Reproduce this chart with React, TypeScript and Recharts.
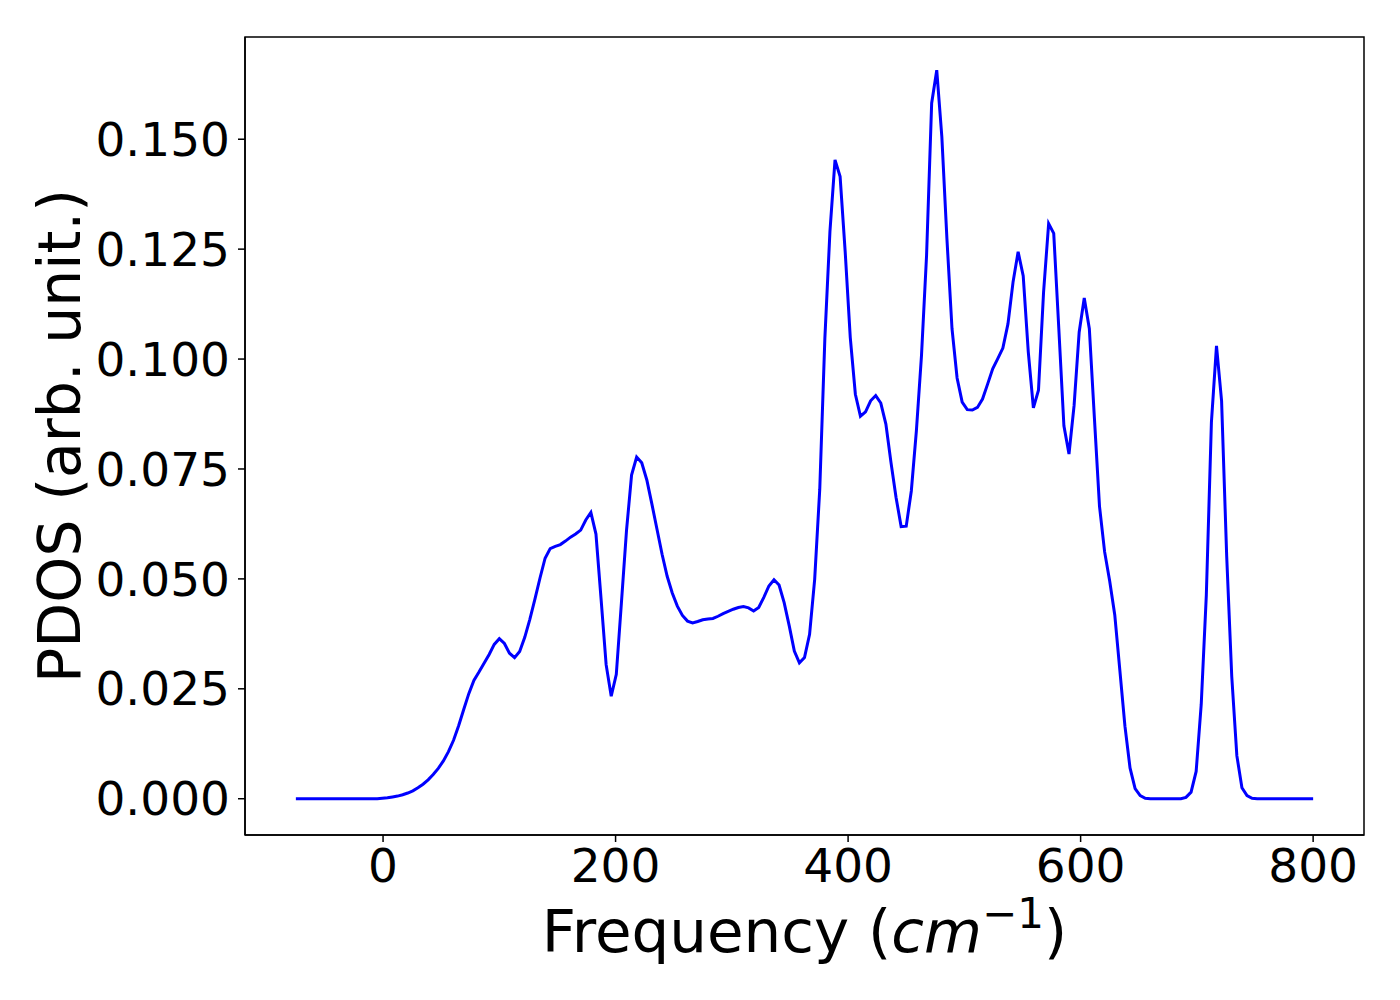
import React from "react";
import { LineChart, Line, XAxis, YAxis, ReferenceArea } from "recharts";

// Frequency grid (cm^-1)
const FREQ: number[] = [
  -75, -70.625, -66.25, -61.875, -57.5, -53.125, -48.75, -44.375,
  -40, -35.625, -31.25, -26.875, -22.5, -18.125, -13.75, -9.375,
  -5, -0.625, 3.75, 8.125, 12.5, 16.875, 21.25, 25.625,
  30, 34.375, 38.75, 43.125, 47.5, 51.875, 56.25, 60.625,
  65, 69.375, 73.75, 78.125, 82.5, 86.875, 91.25, 95.625,
  100, 104.375, 108.75, 113.125, 117.5, 121.875, 126.25, 130.625,
  135, 139.375, 143.75, 148.125, 152.5, 156.875, 161.25, 165.625,
  170, 174.375, 178.75, 183.125, 187.5, 191.875, 196.25, 200.625,
  205, 209.375, 213.75, 218.125, 222.5, 226.875, 231.25, 235.625,
  240, 244.375, 248.75, 253.125, 257.5, 261.875, 266.25, 270.625,
  275, 279.375, 283.75, 288.125, 292.5, 296.875, 301.25, 305.625,
  310, 314.375, 318.75, 323.125, 327.5, 331.875, 336.25, 340.625,
  345, 349.375, 353.75, 358.125, 362.5, 366.875, 371.25, 375.625,
  380, 384.375, 388.75, 393.125, 397.5, 401.875, 406.25, 410.625,
  415, 419.375, 423.75, 428.125, 432.5, 436.875, 441.25, 445.625,
  450, 454.375, 458.75, 463.125, 467.5, 471.875, 476.25, 480.625,
  485, 489.375, 493.75, 498.125, 502.5, 506.875, 511.25, 515.625,
  520, 524.375, 528.75, 533.125, 537.5, 541.875, 546.25, 550.625,
  555, 559.375, 563.75, 568.125, 572.5, 576.875, 581.25, 585.625,
  590, 594.375, 598.75, 603.125, 607.5, 611.875, 616.25, 620.625,
  625, 629.375, 633.75, 638.125, 642.5, 646.875, 651.25, 655.625,
  660, 664.375, 668.75, 673.125, 677.5, 681.875, 686.25, 690.625,
  695, 699.375, 703.75, 708.125, 712.5, 716.875, 721.25, 725.625,
  730, 734.375, 738.75, 743.125, 747.5, 751.875, 756.25, 760.625,
  765, 769.375, 773.75, 778.125, 782.5, 786.875, 791.25, 795.625,
  800,
];

// PDOS values (arb. unit.)
const PDOS: number[] = [
  0, 0, 0, 0, 0, 0, 0, 0,
  0, 0, 0, 0, 0, 0, 0, 0,
  0, 0.0001, 0.0002, 0.0004, 0.0006, 0.0009, 0.0013, 0.0018,
  0.0025, 0.0033, 0.0043, 0.0055, 0.0069, 0.0086, 0.0107, 0.0133,
  0.0166, 0.0203, 0.0239, 0.0269, 0.0288, 0.0308, 0.0328, 0.0351,
  0.0364, 0.0353, 0.0331, 0.0321, 0.0335, 0.0367, 0.0408, 0.0454,
  0.0502, 0.0547, 0.0569, 0.0574, 0.0578, 0.0586, 0.0595, 0.0602,
  0.0611, 0.0634, 0.0651, 0.0602, 0.0455, 0.0305, 0.0233, 0.0283,
  0.0445, 0.0609, 0.0736, 0.0777, 0.0764, 0.0725, 0.067, 0.0613,
  0.0556, 0.0506, 0.0468, 0.0438, 0.0417, 0.0404, 0.04, 0.0403,
  0.0407, 0.0409, 0.041, 0.0415, 0.0421, 0.0426, 0.0431, 0.0435,
  0.0437, 0.0434, 0.0427, 0.0435, 0.0458, 0.0484, 0.0498, 0.0486,
  0.0446, 0.0393, 0.0336, 0.0309, 0.0321, 0.0374, 0.0499, 0.0704,
  0.1046, 0.129, 0.1453, 0.1415, 0.1244, 0.1049, 0.092, 0.087,
  0.088, 0.0905, 0.0917, 0.09, 0.0852, 0.0765, 0.0685, 0.0619,
  0.062, 0.07, 0.0837, 0.1008, 0.1236, 0.1582, 0.1657, 0.1506,
  0.1274, 0.1069, 0.0957, 0.0902, 0.0885, 0.0884, 0.089, 0.0909,
  0.0943, 0.0978, 0.1001, 0.1025, 0.108, 0.1175, 0.1244, 0.1189,
  0.1016, 0.0889, 0.0929, 0.1152, 0.1308, 0.1286, 0.1069, 0.0848,
  0.0784, 0.0894, 0.1061, 0.1139, 0.1069, 0.0865, 0.0665, 0.0562,
  0.0495, 0.0418, 0.0292, 0.0165, 0.007, 0.0023, 0.0007, 0.0001,
  0, 0, 0, 0, 0, 0, 0, 0.0003,
  0.0015, 0.0062, 0.0215, 0.0463, 0.0856, 0.103, 0.0905, 0.0553,
  0.0278, 0.0098, 0.0025, 0.0007, 0.0001, 0, 0, 0,
  0, 0, 0, 0, 0, 0, 0, 0,
  0,
];

const X_TICKS = [0, 200, 400, 600, 800];
const Y_TICKS = [0, 0.025, 0.05, 0.075, 0.1, 0.125, 0.15];
const X_DOMAIN: [number, number] = [-118.75, 843.75];
const Y_DOMAIN: [number, number] = [-0.00825, 0.17325];

const data = FREQ.map((f, i) => ({ x: f, y: PDOS[i] }));

const FONT = "'DejaVu Sans', sans-serif";

const XLabel = (props: any) => {
  const vb = props.viewBox || { x: 245, y: 835, width: 1119, height: 165 };
  const cx = vb.x + vb.width / 2;
  return (
    <text
      x={cx}
      y={952}
      textAnchor="middle"
      fontFamily={FONT}
      fontSize={59.5}
      fill="#000"
    >
      <tspan>Frequency (</tspan>
      <tspan fontStyle="italic">cm</tspan>
      <tspan fontSize={42} dy={-24}>−1</tspan>
      <tspan dy={24}>)</tspan>
    </text>
  );
};

const YLabel = () => (
  <text
    x={80}
    y={436}
    transform="rotate(-90, 80, 436)"
    textAnchor="middle"
    fontFamily={FONT}
    fontSize={58.5}
    fill="#000"
  >
    PDOS (arb. unit.)
  </text>
);

export default function App() {
  return (
    <div style={{ position: "absolute", left: 0, top: 0, width: 1400, height: 1000, background: "#fff" }}>
      <LineChart
        width={1400}
        height={1000}
        data={data}
        margin={{ top: 37, right: 36, bottom: 0, left: 0 }}
      >
        <XAxis
          dataKey="x"
          type="number"
          domain={X_DOMAIN}
          ticks={X_TICKS}
          allowDataOverflow
          height={165}
          tickSize={7}
          tickMargin={7}
          stroke="#000"
          strokeWidth={1.5}
          tick={{ fill: "#000", fontSize: 47, fontFamily: FONT }}
          label={{ content: XLabel }}
        />
        <YAxis
          type="number"
          domain={Y_DOMAIN}
          ticks={Y_TICKS}
          allowDataOverflow
          width={245}
          tickSize={7}
          tickMargin={8}
          stroke="#000"
          strokeWidth={1.5}
          tickFormatter={(v: number) => v.toFixed(3)}
          tick={{ fill: "#000", fontSize: 47, fontFamily: FONT }}
          label={{ content: YLabel }}
        />
        <ReferenceArea
          x1={X_DOMAIN[0]}
          x2={X_DOMAIN[1]}
          y1={Y_DOMAIN[0]}
          y2={Y_DOMAIN[1]}
          fill="none"
          fillOpacity={0}
          stroke="#000"
          strokeWidth={1.5}
          ifOverflow="visible"
        />
        <Line
          type="linear"
          dataKey="y"
          stroke="#0000ff"
          strokeWidth={3}
          dot={false}
          activeDot={false}
          isAnimationActive={false}
        />
      </LineChart>
    </div>
  );
}
